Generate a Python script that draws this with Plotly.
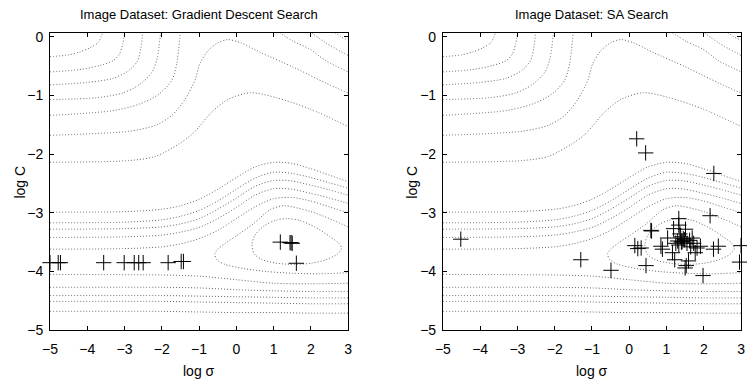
import plotly.graph_objects as go

W, H = 747, 384

X_TICKS = [-5, -4, -3, -2, -1, 0, 1, 2, 3]
Y_TICKS = [-5, -4, -3, -2, -1, 0]
TITLES = ["Image Dataset: Gradient Descent Search", "Image Dataset: SA Search"]

# ---- contour lines, shared by both panels ----
A_X = [-5, -4.5, -4.2, -3.93, -3.71, -3.57]
A_Y = [-0.34, -0.31, -0.26, -0.19, -0.10, 0.10]
B_X = [-5, -4.2, -3.66, -3.31, -3.14, -3.05, -2.99]
B_Y = [-0.60, -0.56, -0.49, -0.41, -0.30, -0.13, 0.10]
C_X = [-5, -4.02, -3.31, -2.87, -2.65, -2.56, -2.51]
C_Y = [-0.82, -0.78, -0.71, -0.57, -0.41, -0.19, 0.10]
D_X = [-5, -3.75, -3.05, -2.61, -2.26, -2.12, -2.03]
D_Y = [-1.07, -1.04, -0.96, -0.82, -0.60, -0.35, 0.10]
E_X = [-5, -3.31, -2.61, -2.08, -1.73, -1.60, -1.50]
E_Y = [-1.34, -1.26, -1.15, -0.98, -0.74, -0.46, 0.10]
F_X = [-5, -2.87, -2.17, -1.73, -1.38, -1.11, -0.98, -0.76, -0.5, -0.23, 0.12, 0.65, 1.53, 2.4, 3.0]
F_Y = [-1.68, -1.61, -1.51, -1.34, -1.07, -0.74, -0.46, -0.24, -0.105, -0.05, -0.105, -0.27, -0.52, -0.79, -0.96]
G_X = [-5, -2.87, -2.17, -1.55, -1.2, -0.98, -0.67, -0.23, 0.38, 1.08, 1.97, 3.0]
G_Y = [-2.14, -2.11, -2.04, -1.83, -1.67, -1.52, -1.29, -1.07, -0.955, -1.04, -1.23, -1.53]
H_X = [1.08, 1.53, 1.97, 2.4, 3.0]
H_Y = [0.10, -0.08, -0.21, -0.41, -0.60]
I_X = [1.95, 2.4, 3.0]
I_Y = [0.10, -0.105, -0.32]
J_X = [2.58, 2.8, 3.0]
J_Y = [0.10, 0.0, -0.06]

BAND_X = [-5, -3, -2, -1.5, -1, -0.5, 0, 0.5, 1, 1.5, 2, 2.5, 3]
U1_Y = [-2.99, -2.98, -2.94, -2.88, -2.77, -2.60, -2.40, -2.22, -2.14, -2.16, -2.25, -2.36, -2.47]
U2_Y = [-3.17, -3.16, -3.12, -3.06, -2.96, -2.80, -2.60, -2.41, -2.31, -2.33, -2.40, -2.49, -2.58]
U3_Y = [-3.28, -3.27, -3.24, -3.19, -3.10, -2.94, -2.75, -2.55, -2.45, -2.46, -2.53, -2.61, -2.70]
U4_Y = [-3.42, -3.41, -3.38, -3.33, -3.25, -3.10, -2.91, -2.70, -2.59, -2.60, -2.67, -2.75, -2.84]
U5_Y = [-3.62, -3.61, -3.58, -3.53, -3.44, -3.30, -3.10, -2.90, -2.76, -2.74, -2.80, -2.90, -3.00]

V_X = [3.0, 2.5, 2.0, 1.26, 0.9, 0.47, 0.03, -0.3, -0.5, -0.58, -0.52, -0.3, 0.2, 0.8, 1.5, 2.2, 3.0]
V_Y = [-3.24, -3.10, -2.98, -2.88, -2.95, -3.18, -3.38, -3.52, -3.62, -3.70, -3.80, -3.88, -3.95, -4.00, -4.03, -4.04, -4.02]

W_X = [0.42, 0.5, 0.75, 1.05, 1.35, 1.7, 2.1, 2.5, 2.75, 2.82, 2.72, 2.4, 2.0, 1.55, 1.1, 0.7, 0.48, 0.42]
W_Y = [-3.55, -3.38, -3.22, -3.13, -3.10, -3.13, -3.24, -3.40, -3.52, -3.60, -3.70, -3.80, -3.86, -3.88, -3.86, -3.80, -3.70, -3.55]

LOW_X = [-5, -2, -1, 0, 1, 2, 3]
L1_Y = [-4.05, -4.06, -4.08, -4.14, -4.20, -4.21, -4.20]
L2_Y = [-4.27, -4.27, -4.28, -4.31, -4.33, -4.34, -4.34]
L3_Y = [-4.41, -4.41, -4.42, -4.43, -4.44, -4.45, -4.45]
L4_Y = [-4.51, -4.51, -4.52, -4.53, -4.54, -4.55, -4.55]
L5_Y = [-4.68, -4.68, -4.69, -4.70, -4.70, -4.71, -4.71]

CONTOURS = [
    (A_X, A_Y), (B_X, B_Y), (C_X, C_Y), (D_X, D_Y), (E_X, E_Y), (F_X, F_Y), (G_X, G_Y),
    (H_X, H_Y), (I_X, I_Y), (J_X, J_Y),
    (BAND_X, U1_Y), (BAND_X, U2_Y), (BAND_X, U3_Y), (BAND_X, U4_Y), (BAND_X, U5_Y),
    (V_X, V_Y), (W_X, W_Y),
    (LOW_X, L1_Y), (LOW_X, L2_Y), (LOW_X, L3_Y), (LOW_X, L4_Y), (LOW_X, L5_Y),
]

# ---- search points ----
GD_X = [-5.0, -4.78, -4.72, -3.56, -3.01, -2.74, -2.62, -2.5, -1.83, -1.48, -1.42, 1.18, 1.44, 1.47, 1.50, 1.61]
GD_Y = [-3.85, -3.85, -3.85, -3.85, -3.85, -3.85, -3.85, -3.85, -3.85, -3.83, -3.83, -3.50, -3.51, -3.51, -3.52, -3.86]

SA_X = [-4.52, -1.30, -0.49, 0.20, 0.44, 0.45, 0.58, 0.60, 0.15, 0.23, 0.32, 0.85, 0.89, 1.03, 1.16,
        1.22, 1.19, 1.33, 1.33, 1.51, 1.38, 1.42, 1.48, 1.55, 1.33, 1.69, 1.73, 1.82, 1.91, 1.77,
        1.59, 1.53, 1.50, 1.98, 2.17, 2.27, 2.26, 2.39, 3.00, 2.96, 1.40, 1.45, 1.30, 1.62, 1.36,
        1.25, 1.65]
SA_Y = [-3.45, -3.80, -3.98, -1.74, -1.98, -3.90, -3.30, -3.31, -3.56, -3.61, -3.60, -3.57, -3.62, -3.43, -3.68,
        -3.80, -3.27, -3.10, -3.21, -3.28, -3.41, -3.49, -3.46, -3.52, -3.55, -3.43, -3.52, -3.60, -3.57, -3.68,
        -3.82, -3.90, -3.94, -4.07, -3.05, -2.33, -3.62, -3.57, -3.56, -3.84, -3.50, -3.44, -3.48, -3.47, -3.36,
        -3.52, -3.58]

FONT = "Liberation Sans Narrow, Liberation Sans, Arial, sans-serif"

fig = go.Figure()
for ax, (px, py) in [("", (GD_X, GD_Y)), ("2", (SA_X, SA_Y))]:
    for cx, cy in CONTOURS:
        fig.add_trace(go.Scatter(
            x=cx, y=cy, mode="lines", xaxis="x" + ax, yaxis="y" + ax,
            line=dict(color="#666666", width=1, dash="1px,2px", shape="spline", smoothing=0.8),
            hoverinfo="skip", showlegend=False))
    fig.add_trace(go.Scatter(
        x=px, y=py, mode="markers", xaxis="x" + ax, yaxis="y" + ax, cliponaxis=False,
        marker=dict(symbol="cross-thin", size=11, line=dict(color="black", width=1)),
        showlegend=False))

common_x = dict(range=[-5, 3], tickvals=X_TICKS, ticks="inside", ticklen=4, showline=True,
                linecolor="black", linewidth=1, mirror="ticks", showgrid=False, zeroline=False,
                tickcolor="black", ticklabelstandoff=6,
                tickfont=dict(family=FONT, size=14, color="black"))
common_y = dict(range=[-5, 0.07], tickvals=Y_TICKS, ticks="inside", ticklen=4, showline=True,
                linecolor="black", linewidth=1, mirror="ticks", showgrid=False, zeroline=False,
                tickcolor="black", ticklabelstandoff=3,
                tickfont=dict(family=FONT, size=14, color="black"))

y_dom = [1 - 336.7 / H, 1 - 29.5 / H]
x1_dom = [42.7 / W, 345.7 / W]
x2_dom = [442.0 / W, 745.0 / W]

fig.update_layout(
    width=W, height=H, margin=dict(l=0, r=0, t=0, b=0),
    paper_bgcolor="white", plot_bgcolor="white",
    xaxis=dict(domain=x1_dom, anchor="y", **common_x),
    yaxis=dict(domain=y_dom, anchor="x", **common_y),
    xaxis2=dict(domain=x2_dom, anchor="y2", **common_x),
    yaxis2=dict(domain=y_dom, anchor="x2", **common_y),
    font=dict(family=FONT, color="black"),
)

ann = []
for dom, title in [(x1_dom, TITLES[0]), (x2_dom, TITLES[1])]:
    cx = (dom[0] + dom[1]) / 2
    ann.append(dict(text=title, x=cx, y=1 - 10.7 / H, xref="paper", yref="paper",
                    xanchor="center", yanchor="middle", showarrow=False,
                    font=dict(family=FONT, size=13, color="black")))
    ann.append(dict(text="log σ", x=cx, y=1 - 369 / H, xref="paper", yref="paper",
                    xanchor="center", yanchor="top", showarrow=False,
                    font=dict(family=FONT, size=14, color="black")))
for xp in [12.5, 411.0]:
    ann.append(dict(text="log C", x=xp / W, y=1 - 184 / H, xref="paper", yref="paper",
                    xanchor="center", yanchor="middle", textangle=-90, showarrow=False,
                    font=dict(family=FONT, size=14, color="black")))
fig.update_layout(annotations=ann)

fig.write_html("out.html", config={"displayModeBar": False},
               post_script="document.body.style.margin='0px';document.body.style.overflow='hidden';")
